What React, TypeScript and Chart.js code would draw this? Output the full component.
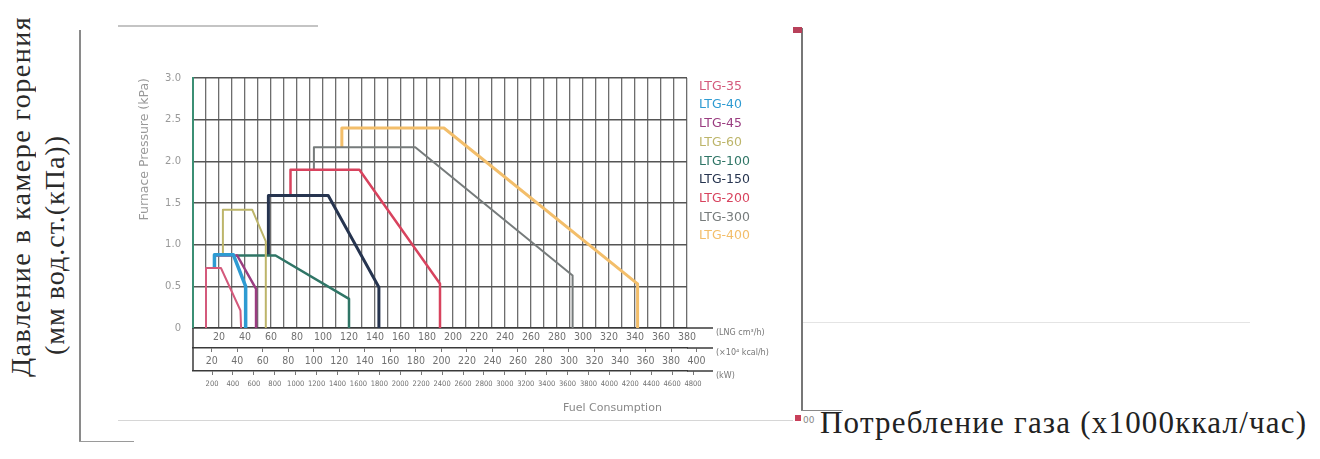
import React, { useEffect, useRef } from 'react';
import { Chart, registerables } from 'chart.js';

Chart.register(...registerables);

// ---- data ----
const seriesNames = ['LTG-35', 'LTG-40', 'LTG-45', 'LTG-60', 'LTG-100', 'LTG-150', 'LTG-200', 'LTG-300', 'LTG-400'];

// [fuel consumption (LNG m³/h), furnace pressure (kPa)]
const ltg35 = [[10, 0], [10, 0.72], [21.5, 0.72], [36.5, 0.21], [37, 0]];
const ltg40 = [[16.5, 0.72], [16.5, 0.88], [31, 0.88], [40.5, 0.5], [40.5, 0]];
const ltg45 = [[16.5, 0.72], [16.5, 0.87], [34, 0.87], [48.5, 0.47], [48.5, 0]];
const ltg60 = [[23, 0.88], [23, 1.42], [45.5, 1.42], [56, 1.04], [56, 0]];
const ltg100 = [[33, 0.87], [63.5, 0.87], [120, 0.35], [120, 0]];
const ltg150 = [[58, 0.87], [58, 1.59], [104, 1.59], [143, 0.49], [143, 0]];
const ltg200 = [[75, 1.59], [75, 1.9], [128, 1.9], [190, 0.53], [190, 0]];
const ltg300 = [[93, 1.9], [93, 2.17], [171, 2.17], [292, 0.63], [292, 0]];
const ltg400 = [[114.5, 2.17], [114.5, 2.4], [193, 2.4], [342, 0.53], [342, 0]];

const seriesData = [ltg35, ltg40, ltg45, ltg60, ltg100, ltg150, ltg200, ltg300, ltg400];

const lngTicks = [20, 40, 60, 80, 100, 120, 140, 160, 180, 200, 220, 240, 260, 280, 300, 320, 340, 360, 380];
const kcalTicks = [20, 40, 60, 80, 100, 120, 140, 160, 180, 200, 220, 240, 260, 280, 300, 320, 340, 360, 380, 400];
const kwTicks = [200, 400, 600, 800, 1000, 1200, 1400, 1600, 1800, 2000, 2200, 2400, 2600, 2800, 3000, 3200, 3400, 3600, 3800, 4000, 4200, 4400, 4600, 4800];
const unitLabels = ['(LNG cm³/h)', '(×10⁴ kcal/h)', '(kW)'];

// ---- styles ----
const seriesColors = ['#d45a7c', '#2e9bd2', '#9a3d80', '#bdb56a', '#2f7566', '#26344f', '#d8435e', '#767b7b', '#f3be6a'];
const lineWidths = [2, 3.5, 2.5, 2, 2.5, 3, 2.5, 2, 3];
const narrow = "'Liberation Sans Narrow', 'DejaVu Sans Condensed', 'Liberation Sans', sans-serif";

const overlayPlugin = {
  id: 'overlay',
  afterDraw(chart: any) {
    const { ctx, chartArea: ca, scales } = chart;
    const ids = ['x', 'xKcal', 'xKw'];
    ctx.save();
    ctx.strokeStyle = '#3a3a3a';
    ctx.lineWidth = 1.5;
    ids.forEach((id) => {
      const s = scales[id];
      ctx.beginPath();
      ctx.moveTo(ca.right, s.top);
      ctx.lineTo(ca.right + 26, s.top);
      ctx.stroke();
    });
    ctx.beginPath();
    ctx.moveTo(ca.left, ca.bottom);
    ctx.lineTo(ca.left, scales.xKw.top);
    ctx.stroke();

    ctx.font = "8px 'DejaVu Sans'";
    ctx.fillStyle = '#777';
    ctx.textBaseline = 'middle';
    ctx.textAlign = 'left';
    unitLabels.forEach((t, i) => ctx.fillText(t, ca.right + 29, scales[ids[i]].top + 5));

    ctx.font = "11px 'DejaVu Sans'";
    ctx.fillStyle = '#888';
    ctx.fillText('Fuel Consumption', ca.left + 370, scales.xKw.bottom - 8);

    ctx.font = "12.5px 'DejaVu Sans'";
    chart.data.datasets.forEach((ds: any, i: number) => {
      ctx.fillStyle = ds.borderColor;
      ctx.fillText(ds.label, ca.right + 12, ca.top + 8.5 + i * 18.7);
    });
    ctx.restore();
  },
};

function lineStyle(left: number, top: number, width: number, height: number, color: string): React.CSSProperties {
  return { position: 'absolute', left, top, width, height, background: color };
}

export default function App() {
  const ref = useRef<HTMLCanvasElement>(null);

  useEffect(() => {
    if (!ref.current) return;
    const chart = new Chart(ref.current, {
      type: 'line',
      data: {
        datasets: seriesNames.map((name, i) => ({
          label: name,
          data: seriesData[i].map(([x, y]) => ({ x, y })),
          borderColor: seriesColors[i],
          backgroundColor: seriesColors[i],
          borderWidth: lineWidths[i],
          pointRadius: 0,
          tension: 0,
          fill: false,
          borderJoinStyle: 'round' as const,
        })),
      },
      options: {
        animation: false,
        responsive: false,
        layout: { padding: { left: 0, right: 83, top: 15, bottom: 4 } },
        plugins: { legend: { display: false }, tooltip: { enabled: false } },
        scales: {
          x: {
            type: 'linear',
            position: 'bottom',
            weight: 0,
            min: 0,
            max: 380,
            ticks: {
              stepSize: 10,
              autoSkip: false,
              maxRotation: 0,
              padding: 3,
              color: '#707070',
              font: { family: narrow, size: 10.5 },
              callback: (v: any) => (v === 0 ? null : lngTicks.includes(v) ? String(v) : ''),
            },
            grid: { color: '#6d6d6d', lineWidth: 1.3, drawTicks: false },
            border: { color: '#3a3a3a', width: 1.5 },
            afterFit: (s: any) => { s.height = 20; },
          },
          xKcal: {
            type: 'linear',
            position: 'bottom',
            weight: 1,
            min: 5.3,
            max: 392.5,
            afterBuildTicks: (s: any) => { s.ticks = kcalTicks.map((v) => ({ value: v })); },
            ticks: {
              autoSkip: false,
              maxRotation: 0,
              padding: 3,
              color: '#707070',
              font: { family: narrow, size: 10.5 },
              callback: (v: any) => String(v),
            },
            grid: { drawOnChartArea: false, drawTicks: true, tickLength: 4, color: '#777', lineWidth: 1 },
            border: { color: '#3a3a3a', width: 1.5 },
            afterFit: (s: any) => { s.height = 23; },
          },
          xKw: {
            type: 'linear',
            position: 'bottom',
            weight: 2,
            min: 18,
            max: 4742,
            afterBuildTicks: (s: any) => { s.ticks = kwTicks.map((v) => ({ value: v })); },
            ticks: {
              autoSkip: false,
              maxRotation: 0,
              padding: 5,
              color: '#707070',
              font: { family: narrow, size: 7.5 },
              callback: (v: any) => String(v),
            },
            grid: { drawOnChartArea: false, drawTicks: true, tickLength: 4, color: '#777', lineWidth: 1 },
            border: { color: '#3a3a3a', width: 1.5 },
            afterFit: (s: any) => { s.height = 45; },
          },
          y: {
            type: 'linear',
            position: 'left',
            min: 0,
            max: 3,
            ticks: {
              stepSize: 0.5,
              padding: 12,
              color: '#999',
              font: { family: 'DejaVu Sans', size: 10 },
              callback: (v: any) => (v === 0 ? '0' : Number(v).toFixed(1)),
            },
            grid: { color: '#555', lineWidth: 1.5, drawTicks: false },
            border: { color: '#3b8f74', width: 2 },
            title: {
              display: true,
              text: 'Furnace Pressure (kPa)',
              align: 'end',
              color: '#999',
              font: { family: 'DejaVu Sans', size: 12.5 },
              padding: { top: 7, bottom: 0 },
            },
            afterFit: (s: any) => { s.width = 63; },
          },
        },
      } as any,
      plugins: [overlayPlugin],
    });
    return () => chart.destroy();
  }, []);

  const serif = "'Liberation Serif', 'Times New Roman', serif";

  return (
    <div style={{ position: 'absolute', left: 0, top: 0, width: 1320, height: 459, background: '#fff', overflow: 'hidden' }}>
      {/* scanned page frame lines */}
      <div style={lineStyle(79, 30, 1.5, 411, '#8a8a8a')} />
      <div style={lineStyle(79, 441, 55, 1, '#9a9a9a')} />
      <div style={lineStyle(118, 25, 200, 1.5, '#c4c4c4')} />
      <div style={lineStyle(118, 420, 675, 1, '#d6d6d6')} />
      <div style={lineStyle(801, 28, 1.5, 382, '#777')} />
      <div style={lineStyle(801, 410, 42, 1, '#888')} />
      <div style={lineStyle(803, 322, 447, 1, '#e4e4e4')} />
      <div style={lineStyle(793, 27, 9, 6, '#b8405a')} />
      <div style={lineStyle(795, 415, 6, 6, '#c8405a')} />
      <div style={{ position: 'absolute', left: 803, top: 415, font: "9px 'DejaVu Sans'", color: '#888' }}>00</div>

      <canvas ref={ref} width={640} height={360} style={{ position: 'absolute', left: 130, top: 60, width: 640, height: 360 }} />

      <div style={{ position: 'absolute', left: 5, top: 0, width: 32, height: 377, writingMode: 'vertical-rl', transform: 'rotate(180deg)', font: `28px ${serif}`, letterSpacing: '1.5px', lineHeight: '32px', whiteSpace: 'nowrap', color: '#2a2a2a' }}>
        Давление в камере горения
      </div>
      <div style={{ position: 'absolute', left: 39, top: 0, width: 32, height: 355, writingMode: 'vertical-rl', transform: 'rotate(180deg)', font: `28px ${serif}`, letterSpacing: '1px', lineHeight: '32px', whiteSpace: 'nowrap', color: '#2a2a2a' }}>
        (мм вод.ст.(кПа))
      </div>
      <div style={{ position: 'absolute', left: 820, top: 405, font: `31px ${serif}`, letterSpacing: '1.2px', lineHeight: '36px', whiteSpace: 'nowrap', color: '#222' }}>
        Потребление газа (x1000ккал/час)
      </div>
    </div>
  );
}
